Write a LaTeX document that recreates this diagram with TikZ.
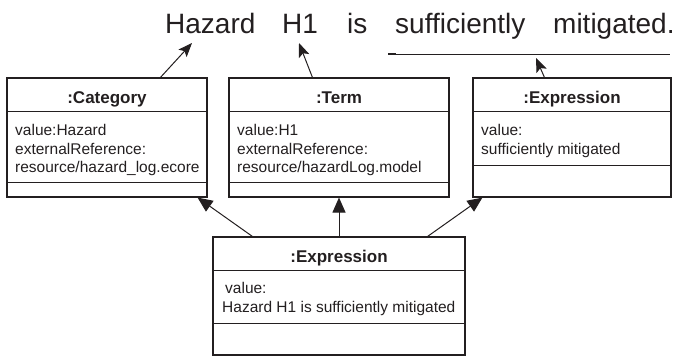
\documentclass[tikz,border=0pt]{standalone}
\usepackage{fontspec}
\setmainfont{Liberation Sans}
\usetikzlibrary{arrows.meta,calc}
\definecolor{ink}{RGB}{35,31,32}
\begin{document}
\begin{tikzpicture}[x=1pt,y=-1pt,
  box/.style={draw=ink, line width=1.1pt, inner sep=0, minimum height=119pt},
  hdr/.style={font=\fontsize{17}{20}\selectfont\bfseries, text=ink, inner sep=0, anchor=base},
  attr/.style={font=\fontsize{15.5}{18.5}\selectfont, text=ink, inner sep=0, anchor=base west},
  word/.style={font=\fontsize{28}{32}\selectfont, text=ink, inner sep=0, anchor=base west},
  sep/.style={line width=1.1pt, draw=ink},
  ptr/.style={line width=1pt, draw=ink, -{Stealth[length=14pt,width=11pt,inset=3pt]}},
  gen/.style={line width=1pt, draw=ink, -{Triangle[length=15pt,width=13pt]}}]
\useasboundingbox (0,0) rectangle (678,356);

% title words
\node[word] (w1) at (165,34) {Hazard};
\node[word] (w2) at (282,34) {H1};
\node[word] (w3) at (347,34) {is};
\node[word] (w4) at (395,34) {sufficiently};
\node[word] (w5) at (553,34) {mitigated.};

% boxes
\node[box, minimum width=200pt] (cat)  at (107,137.5) {};
\node[box, minimum width=220pt] (term) at (339,137.5) {};
\node[box, minimum width=198pt] (expr) at (572,137.5) {};
\node[box, minimum width=252pt, minimum height=118pt] (bot) at (339,296) {};

% separators
\draw[sep] ($(cat.north west)+(0,34)$) -- ($(cat.north east)+(0,34)$);
\draw[sep] ($(cat.north west)+(0,105)$) -- ($(cat.north east)+(0,105)$);
\draw[sep] ($(term.north west)+(0,34)$) -- ($(term.north east)+(0,34)$);
\draw[sep] ($(term.north west)+(0,105)$) -- ($(term.north east)+(0,105)$);
\draw[sep] ($(expr.north west)+(0,34)$) -- ($(expr.north east)+(0,34)$);
\draw[sep] ($(expr.north west)+(0,88)$) -- ($(expr.north east)+(0,88)$);
\draw[sep] ($(bot.north west)+(0,34)$) -- ($(bot.north east)+(0,34)$);
\draw[sep] ($(bot.north west)+(0,87)$) -- ($(bot.north east)+(0,87)$);

% headers
\node[hdr] (cath) at (107,103) {:Category};
\node[hdr] (termh) at (339,103) {:Term};
\node[hdr] (exprh) at (572,103) {:Expression};
\node[hdr] (both) at (339,262) {:Expression};

% attributes
\node[attr] (ca1) at (15,135) {value:Hazard};
\node[attr] (ca2) at (15,154) {externalReference:};
\node[attr] (ca3) at (15,172.5) {resource/hazard\_log.ecore};
\node[attr] (ta1) at (237,135) {value:H1};
\node[attr] (ta2) at (237,154) {externalReference:};
\node[attr] (ta3) at (237,172.5) {resource/hazardLog.model};
\node[attr] (ea1) at (481,135) {value:};
\node[attr] (ea2) at (481,154) {sufficiently mitigated};
\node[attr] (ba1) at (225,293) {value:};
\node[attr] (ba2) at (222,312) {Hazard H1 is sufficiently mitigated};

% underline of the expression phrase
\coordinate (l1) at (388,54);
\coordinate (l2) at (670,54);
\coordinate (l1b) at (396,54);
\draw[line width=1pt, draw=ink] (l1) -- (l2);
\draw[line width=2pt, draw=ink] (l1) -- (l1b);

% pointer arrows to the sentence
\coordinate (t1) at (192,43);
\coordinate (t2) at (299,43);
\coordinate (t3) at (536,58);
\draw[ptr] ($(cat.north west)+(154,0)$) -- (t1);
\draw[ptr] ($(term.north west)+(84,0)$) -- (t2);
\draw[ptr] ($(expr.north west)+(72,0)$) -- (t3);

% composition arrows
\draw[gen] ($(bot.north west)+(40,0)$) -- ($(cat.south east)+(-10,0)$);
\draw[gen] (bot.north) -- (term.south);
\draw[gen] ($(bot.north east)+(-38,0)$) -- ($(expr.south west)+(10,0)$);
\end{tikzpicture}
\end{document}
